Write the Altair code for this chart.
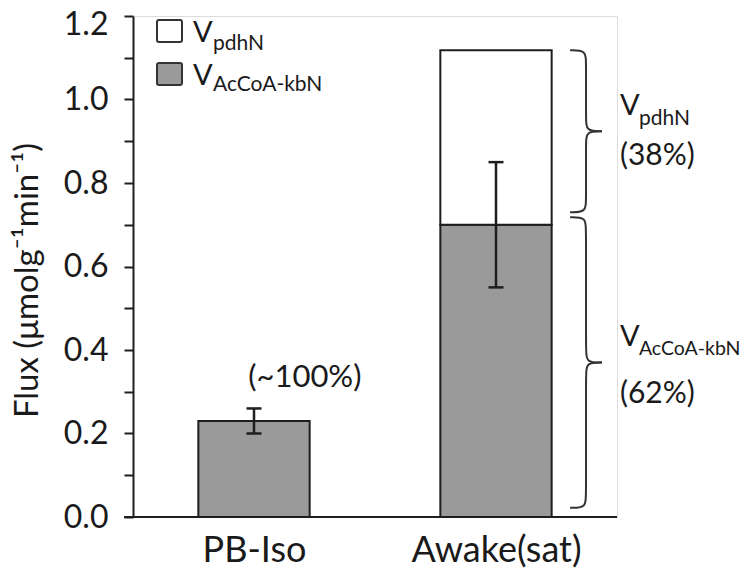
import altair as alt
import pandas as pd

# ---- data ----
categories = ["PB-Iso", "Awake(sat)"]
positions = [1, 2]
acoa_kb = [0.23, 0.70]        # V_AcCoA-kbN (grey)
pdh = [0.0, 0.418]            # V_pdhN (white, stacked on top)
err = [0.03, 0.15]            # error on grey part
pct_pdh = "(38%)"
pct_acoa = "(62%)"
pct_pb = "(~100%)"

FONT = "Lato"
GREY = "#9a9a9a"
DARK = "#1e1e1e"
TXT = "#1a1a1a"
half_w = 0.23

rows = []
for c, p, a, d in zip(categories, positions, acoa_kb, pdh):
    rows.append(dict(cat=c, x0=p - half_w, x1=p + half_w, y0=0, y1=a, comp="acoa"))
    if d > 0:
        rows.append(dict(cat=c, x0=p - half_w, x1=p + half_w, y0=a, y1=a + d, comp="pdh"))
bars_df = pd.DataFrame(rows)

err_df = pd.DataFrame(dict(x=positions, lo=[a - e for a, e in zip(acoa_kb, err)],
                           hi=[a + e for a, e in zip(acoa_kb, err)]))
cap_w = 0.031
caps_df = pd.DataFrame(dict(x0=[p - cap_w for p in positions] * 2,
                            x1=[p + cap_w for p in positions] * 2,
                            y=list(err_df.lo) + list(err_df.hi)))

x_scale = alt.Scale(domain=[0.5, 2.5], nice=False, zero=False)
y_scale = alt.Scale(domain=[0, 1.2], nice=False)

base = alt.Chart(bars_df)

bars = base.mark_rect(stroke=DARK, strokeWidth=2).encode(
    x=alt.X("x0:Q", scale=x_scale,
            axis=alt.Axis(values=positions, title=None, domain=False, ticks=False, grid=False,
                          labelExpr="datum.value == 1 ? 'PB-Iso' : 'Awake(sat)'",
                          labelFont=FONT, labelFontSize=36, labelColor=TXT,
                          labelPadding=16)),
    x2="x1:Q",
    y=alt.Y("y0:Q", scale=y_scale,
            axis=alt.Axis(values=[round(i * 0.1, 1) for i in range(13)],
                          labelExpr="round(datum.value*10) % 2 == 0 ? format(datum.value, '.1f') : ''",
                          labelOffset=alt.condition("datum.value >= 1.15", alt.value(8), alt.value(0)),
                          title="Flux  (μmolg⁻¹min⁻¹)", titleFont=FONT, titleFontSize=33,
                          titleFontWeight="normal", titleColor=TXT,
                          titleX=-106, titleY=264, titleAngle=-90, titleAlign="center",
                          titleBaseline="middle",
                          labelFont=FONT, labelFontSize=32, labelColor=TXT,
                          labelPadding=16, tickSize=9, tickWidth=2, tickColor=DARK,
                          domainColor=DARK, domainWidth=2, grid=False)),
    y2="y1:Q",
    fill=alt.Fill("comp:N", scale=alt.Scale(domain=["acoa", "pdh"], range=[GREY, "white"]),
                  legend=None),
)

baseline = alt.Chart(pd.DataFrame(dict(x0=[0.463], x1=[2.5], y=[0]))).mark_rule(
    color=DARK, strokeWidth=2).encode(x="x0:Q", x2="x1:Q", y="y:Q")

err_rule = alt.Chart(err_df).mark_rule(color=DARK, strokeWidth=2.5).encode(
    x="x:Q", y="lo:Q", y2="hi:Q")
err_caps = alt.Chart(caps_df).mark_rule(color=DARK, strokeWidth=2.5).encode(
    x="x0:Q", x2="x1:Q", y="y:Q")

# ---- braces (derived from the stacked values) ----
total = acoa_kb[1] + pdh[1]
gx_end, gx_spine, gx_tip = 2.306, 2.372, 2.438
c = 0.03
def brace(top, bot, name):
    mid = (top + bot) / 2
    pts = []
    upper = [(gx_end, top), (gx_spine, top), (gx_spine, top - c), (gx_spine, mid + c),
             (gx_spine, mid), (gx_tip, mid)]
    lower = [(gx_end, bot), (gx_spine, bot), (gx_spine, bot + c), (gx_spine, mid - c),
             (gx_spine, mid), (gx_tip, mid)]
    for i, (x, y) in enumerate(upper):
        pts.append(dict(x=x, y=y, o=i, g=name + "u"))
    for i, (x, y) in enumerate(lower):
        pts.append(dict(x=x, y=y, o=i, g=name + "l"))
    return pts, mid

up_pts, up_mid = brace(total, acoa_kb[1] + 0.03, "up")
lo_pts, lo_mid = brace(acoa_kb[1] + 0.018, 0.022, "lo")
brace_df = pd.DataFrame(up_pts + lo_pts)
braces = alt.Chart(brace_df).mark_line(color="#333", strokeWidth=2, interpolate="basis").encode(
    x="x:Q", y="y:Q", detail="g:N", order="o:Q")

lab_x = 2.512
def txt(df, size, dx=0, dy=0, align="left"):
    return alt.Chart(df).mark_text(font=FONT, fontSize=size, color=TXT, align=align,
                                   baseline="alphabetic", dx=dx, dy=dy).encode(
        x="x:Q", y="y:Q", text="t:N")

ann = [
    txt(pd.DataFrame(dict(x=[lab_x], y=[up_mid], t=["V"])), 29, dy=-16),
    txt(pd.DataFrame(dict(x=[lab_x], y=[up_mid], t=["pdhN"])), 21, dx=19, dy=-6),
    txt(pd.DataFrame(dict(x=[lab_x], y=[up_mid], t=[pct_pdh])), 30, dy=34),
    txt(pd.DataFrame(dict(x=[lab_x], y=[lo_mid], t=["V"])), 29, dy=-17),
    txt(pd.DataFrame(dict(x=[lab_x], y=[lo_mid], t=["AcCoA-kbN"])), 19.5, dx=19, dy=-8),
    txt(pd.DataFrame(dict(x=[lab_x], y=[lo_mid], t=[pct_acoa])), 30, dy=40),
    txt(pd.DataFrame(dict(x=[positions[0] + 0.21], y=[acoa_kb[0] + err[0]], t=[pct_pb])),
        31, dy=-21, align="center"),
]

# ---- manual legend (top-left) ----
leg_box = alt.Chart(pd.DataFrame(dict(k=["pdh", "acoa"]))).mark_rect(
    stroke="#333", strokeWidth=2, cornerRadius=2)
leg1 = leg_box.transform_filter("datum.k == 'pdh'").encode(
    x=alt.value(24), x2=alt.value(49), y=alt.value(4), y2=alt.value(26), fill=alt.value("white"))
leg2 = leg_box.transform_filter("datum.k == 'acoa'").encode(
    x=alt.value(24), x2=alt.value(49), y=alt.value(47), y2=alt.value(69), fill=alt.value(GREY))

def ltxt(t, size, x, y):
    return alt.Chart(pd.DataFrame(dict(t=[t]))).mark_text(
        font=FONT, fontSize=size, color=TXT, align="left", baseline="alphabetic").encode(
        x=alt.value(x), y=alt.value(y), text="t:N")

legend = [leg1, leg2,
          ltxt("V", 29, 60, 26), ltxt("pdhN", 21, 80, 34),
          ltxt("V", 29, 60, 69), ltxt("AcCoA-kbN", 21, 80, 75)]

chart = alt.layer(bars, baseline, err_rule, err_caps, braces, *ann, *legend).properties(
    width=484, height=501,
    autosize=alt.AutoSizeParams(type="none"),
    padding={"left": 125, "top": 8, "right": 124, "bottom": 59},
).configure_view(stroke=None).configure(background="white")

chart.save("out.html", embed_options={"renderer": "svg", "actions": False})
